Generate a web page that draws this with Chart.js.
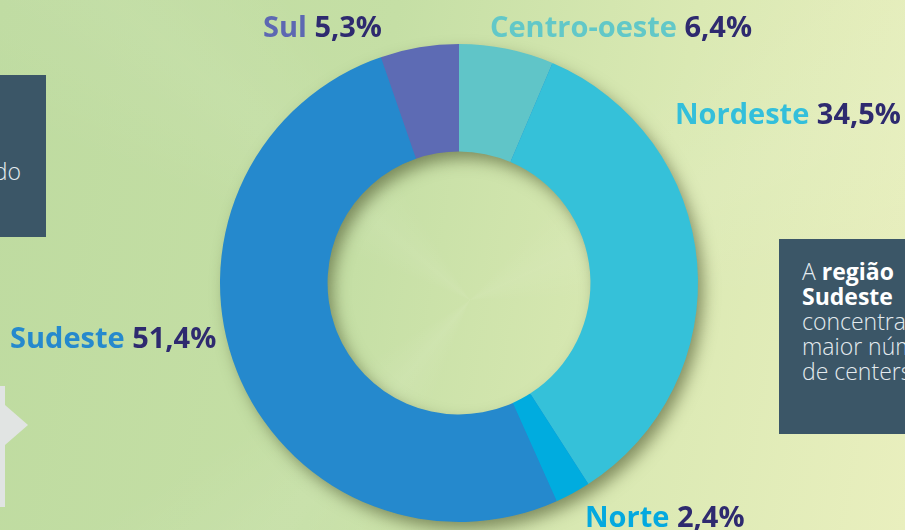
<!DOCTYPE html>
<html>
<head>
<meta charset="utf-8">
<script src="https://cdn.jsdelivr.net/npm/chart.js@4/dist/chart.umd.min.js"></script>
<style>
  html, body { margin: 0; padding: 0; }
  body {
    width: 905px; height: 530px; overflow: hidden; position: relative;
    background: linear-gradient(100deg, #bedba0 0%, #c5dfa5 40%, #dae9b3 70%, #e9efbe 100%);
    font-family: "Open Sans", "Noto Sans", sans-serif;
  }
  .rays {
    position: absolute; inset: 0;
    background: conic-gradient(from 200deg at 470px 300px,
      rgba(255,255,255,0) 0deg, rgba(255,255,255,0.07) 20deg, rgba(255,255,255,0) 40deg,
      rgba(255,255,255,0) 90deg, rgba(255,255,255,0.06) 110deg, rgba(255,255,255,0) 130deg,
      rgba(255,255,255,0) 200deg, rgba(255,255,255,0.06) 225deg, rgba(255,255,255,0) 250deg);
  }
  .box { position: absolute; background: #3b5667; color: #e4ebef; font-weight: 300; overflow: hidden; }
  #boxLeft { left: 0; top: 75px; width: 46px; height: 162px; }
  #boxLeft span { position: absolute; right: 25px; top: 80px; font-size: 23px; }
  #boxRight { left: 779px; top: 239px; width: 140px; height: 195px; }
  #boxRight p { margin: 0; position: absolute; left: 23px; top: 20px; width: 200px; font-size: 23px; line-height: 25px; white-space: nowrap; }
  #boxRight b { font-weight: 700; color: #fff; }
  #arrow { position: absolute; left: 0; top: 386px; width: 5px; height: 121px; background: #e1e4e3; }
  #arrowTip { position: absolute; left: 5px; top: 405px; width: 0; height: 0;
    border-top: 20px solid transparent; border-bottom: 20px solid transparent; border-left: 23px solid #e1e4e3; }
  #wrap { position: absolute; left: 0; top: 0; width: 905px; height: 530px; }
</style>
</head>
<body>
<div class="rays"></div>
<div class="box" id="boxLeft"><span>do</span></div>
<div class="box" id="boxRight"><p>A <b>região</b><br><b>Sudeste</b><br>concentra o<br>maior número<br>de centers</p></div>
<div id="arrow"></div>
<div id="arrowTip"></div>
<div id="wrap"><canvas id="chart" width="905" height="530"></canvas></div>
<script>
// Données : part des regions (%)
const regions = ['Centro-oeste', 'Nordeste', 'Norte', 'Sudeste', 'Sul'];
const parts = [6.4, 34.5, 2.4, 51.4, 5.3];
const partLabels = ['6,4%', '34,5%', '2,4%', '51,4%', '5,3%'];
const couleurs = ['#60c5c8', '#35c1d9', '#00acdf', '#2589cd', '#5d6bb4'];
const couleursTexte = ['#62c8c8', '#33bfdb', '#04a9df', '#2589cd', '#5d68b2'];
const couleurValeur = '#2e2a6f';

// Position des etiquettes (x gauche, ligne de base)
const positionsEtiquettes = [[490, 37], [675, 124], [585, 527], [10, 348], [263, 37]];

// Ombre portee sous l'anneau
const ombrePlugin = {
  id: 'ombre',
  beforeDatasetsDraw(chart) {
    const arc = chart.getDatasetMeta(0).data[0];
    if (!arc) return;
    const { x, y, outerRadius, innerRadius } = arc.getProps(['x', 'y', 'outerRadius', 'innerRadius'], true);
    const ctx = chart.ctx;
    ctx.save();
    ctx.shadowColor = 'rgba(70, 80, 40, 0.6)';
    ctx.shadowBlur = 16;
    ctx.shadowOffsetX = 6;
    ctx.shadowOffsetY = 8;
    ctx.fillStyle = '#2589cd';
    ctx.beginPath();
    ctx.arc(x, y, outerRadius - 1, 0, Math.PI * 2);
    ctx.arc(x, y, innerRadius + 1, 0, Math.PI * 2, true);
    ctx.fill();
    ctx.restore();
  }
};

// Etiquettes : nom de la region + pourcentage
const etiquettesPlugin = {
  id: 'etiquettes',
  afterDraw(chart) {
    const ctx = chart.ctx;
    ctx.save();
    ctx.font = 'bold 29px "Open Sans", "Noto Sans", sans-serif';
    ctx.textBaseline = 'alphabetic';
    ctx.textAlign = 'left';
    regions.forEach((nom, i) => {
      const [x, y] = positionsEtiquettes[i];
      ctx.fillStyle = couleursTexte[i];
      ctx.fillText(nom, x, y);
      const w = ctx.measureText(nom + ' ').width;
      ctx.fillStyle = couleurValeur;
      ctx.fillText(partLabels[i], x + w, y);
    });
    ctx.restore();
  }
};

const ctx = document.getElementById('chart').getContext('2d');
new Chart(ctx, {
  type: 'doughnut',
  data: {
    labels: regions,
    datasets: [{
      data: parts,
      backgroundColor: couleurs,
      borderWidth: 0
    }]
  },
  options: {
    responsive: false,
    animation: false,
    cutout: '55%',
    layout: { padding: { left: 220, right: 207, top: 44, bottom: 8 } },
    plugins: { legend: { display: false }, tooltip: { enabled: false } }
  },
  plugins: [ombrePlugin, etiquettesPlugin]
});
</script>
</body>
</html>
